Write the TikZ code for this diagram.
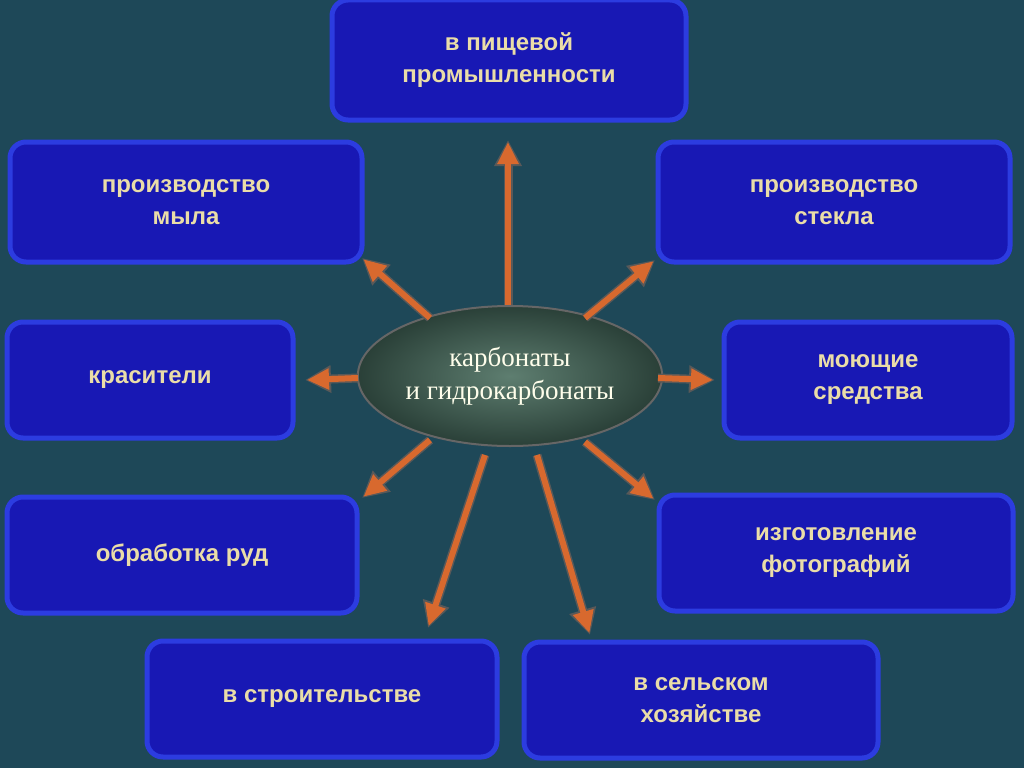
\documentclass[tikz,border=0pt]{standalone}
\usepackage{fontspec}
\setmainfont{Liberation Serif}
\setsansfont{Liberation Sans}
\usetikzlibrary{arrows.meta,shapes.geometric}
\definecolor{bg}{HTML}{1E4858}
\definecolor{boxfill}{HTML}{1818B4}
\definecolor{boxedge}{HTML}{2C3CE0}
\definecolor{txt}{HTML}{EADDA8}
\definecolor{arr}{HTML}{D8692E}
\definecolor{ellin}{HTML}{5E7E70}
\definecolor{ellout}{HTML}{2A4038}
\tikzset{
 box/.style={draw=boxedge,line width=5pt,fill=boxfill,rounded corners=16pt,
   font=\sffamily\bfseries\fontsize{24}{32}\selectfont,text=txt,align=center},
 arrowbg/.style={line width=9pt,draw=black!65,-{Triangle[length=26pt,width=26pt]}},
 arrowfg/.style={line width=6pt,draw=arr,-{Triangle[length=22pt,width=20pt]}},
}
\begin{document}
\begin{tikzpicture}[x=1pt,y=-1pt]
\fill[bg] (0,0) rectangle (1024,768);
\useasboundingbox (0,0) rectangle (1024,768);
\node[box,minimum width=354pt,minimum height=120pt] (b1) at (509,60) {в пищевой\\промышленности};
\node[box,minimum width=352pt,minimum height=120pt] (b2) at (186,202) {производство\\мыла};
\node[box,minimum width=352pt,minimum height=120pt] (b3) at (834,202) {производство\\стекла};
\node[box,minimum width=286pt,minimum height=116pt] (b4) at (150,380) {красители};
\node[box,minimum width=288pt,minimum height=116pt] (b5) at (868,380) {моющие\\средства};
\node[box,minimum width=350pt,minimum height=116pt] (b6) at (182,555) {обработка руд};
\node[box,minimum width=354pt,minimum height=116pt] (b7) at (836,553) {изготовление\\фотографий};
\node[box,minimum width=350pt,minimum height=116pt] (b8) at (322,699) {в строительстве};
\node[box,minimum width=354pt,minimum height=116pt] (b9) at (701,700) {в сельском\\хозяйстве};
\node[ellipse,minimum width=290pt,minimum height=140pt,draw=black!60,line width=2pt,
  inner color=ellin,outer color=ellout,
  text=white!92!yellow,font=\fontsize{27}{33}\selectfont,align=center] (c) at (510,376) {карбонаты\\и гидрокарбонаты};
\coordinate (s1) at (508,305); \coordinate (e1) at (508,140);
\coordinate (s2) at (430,318); \coordinate (e2) at (362,258);
\coordinate (s3) at (585,318); \coordinate (e3) at (655,260);
\coordinate (s4) at (358,378); \coordinate (e4) at (305,380);
\coordinate (s5) at (658,378); \coordinate (e5) at (715,380);
\coordinate (s6) at (430,440); \coordinate (e6) at (362,498);
\coordinate (s7) at (585,442); \coordinate (e7) at (655,500);
\coordinate (s8) at (485,455); \coordinate (e8) at (428,628);
\coordinate (s9) at (537,455); \coordinate (e9) at (590,635);
\foreach \i in {1,...,9}{\draw[arrowbg] (s\i) -- (e\i);}
\foreach \i in {1,...,9}{\draw[arrowfg,shorten >=2pt] (s\i) -- (e\i);}
\end{tikzpicture}
\end{document}
